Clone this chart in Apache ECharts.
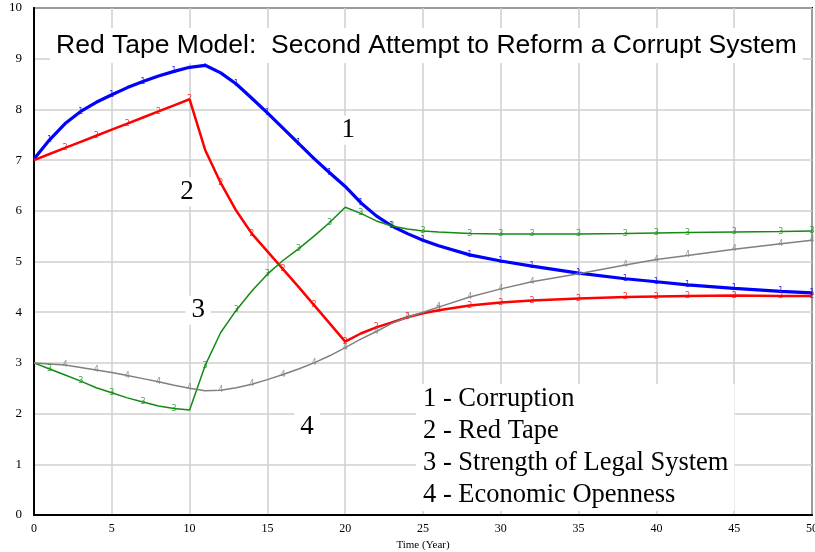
<!DOCTYPE html>
<html>
<head>
<meta charset="utf-8">
<script src="https://cdn.jsdelivr.net/npm/echarts@6/dist/echarts.min.js"></script>
<style>
  html, body { margin: 0; padding: 0; background: #fff; }
  #chart { width: 815px; height: 552px; }
</style>
</head>
<body>
<div id="chart"></div>
<script>
var years = [0, 1, 2, 3, 4, 5, 6, 7, 8, 9, 10, 11, 12, 13, 14, 15, 16, 17, 18, 19, 20,
  21, 22, 23, 24, 25, 26, 28, 30, 32, 35, 38, 40, 42, 45, 48, 50];

var corruption = [7.02, 7.4, 7.72, 7.96, 8.14, 8.29, 8.43, 8.55, 8.66, 8.75, 8.83, 8.87,
  8.72, 8.5, 8.22, 7.93, 7.63, 7.33, 7.03, 6.75, 6.48, 6.16, 5.9, 5.7, 5.55, 5.42, 5.31,
  5.13, 5.01, 4.91, 4.77, 4.66, 4.6, 4.54, 4.47, 4.41, 4.38];
var redTape = [7.0, 7.12, 7.24, 7.36, 7.48, 7.6, 7.72, 7.84, 7.96, 8.08, 8.2, 7.2,
  6.55, 6.0, 5.55, 5.2, 4.85, 4.5, 4.14, 3.78, 3.42, 3.58, 3.7, 3.8, 3.9, 3.98, 4.04,
  4.13, 4.19, 4.23, 4.27, 4.3, 4.31, 4.32, 4.33, 4.32, 4.32];
var legalSystem = [3.0, 2.88, 2.76, 2.64, 2.51, 2.41, 2.31, 2.23, 2.15, 2.1, 2.07, 2.95,
  3.6, 4.04, 4.42, 4.75, 5.02, 5.25, 5.5, 5.77, 6.07, 5.95, 5.8, 5.7, 5.64, 5.6, 5.58,
  5.55, 5.54, 5.54, 5.54, 5.55, 5.56, 5.57, 5.58, 5.59, 5.6];
var openness = [3.0, 2.98, 2.96, 2.91, 2.86, 2.81, 2.75, 2.69, 2.63, 2.56, 2.5, 2.45,
  2.46, 2.51, 2.58, 2.67, 2.77, 2.88, 3.0, 3.14, 3.3, 3.47, 3.62, 3.78, 3.9, 4.0, 4.1,
  4.3, 4.46, 4.6, 4.76, 4.93, 5.04, 5.12, 5.24, 5.35, 5.42];

var seriesNames = ["1 - Corruption", "2 - Red Tape", "3 - Strength of Legal System", "4 - Economic Openness"];
var xTicks = [0, 5, 10, 15, 20, 25, 30, 35, 40, 45, 50];
var yTicks = [0, 1, 2, 3, 4, 5, 6, 7, 8, 9, 10];

var serif = "Liberation Serif";
var myChart = echarts.init(document.getElementById("chart"), null, { renderer: "canvas" });

// small run numbers drawn along each curve, like the simulation tool does
function buildData(values, num) {
  return years.map(function (t, i) {
    var show = t > 26 ? true : (t + num) % 2 === 0 && t > 0;
    return {
      value: [t, values[i]],
      label: { show: show, formatter: String(num) }
    };
  });
}

function bigLabel(num, coord) {
  return {
    symbol: "rect",
    symbolSize: 0,
    silent: true,
    label: {
      show: true,
      formatter: String(num),
      fontFamily: serif,
      fontSize: 27,
      color: "#000",
      backgroundColor: "#fff",
      padding: [1, 6, 1, 6]
    },
    data: [{ coord: coord }]
  };
}

function makeSeries(name, values, num, color, width, big) {
  return {
    name: name,
    type: "line",
    data: buildData(values, num),
    symbol: "circle",
    symbolSize: 0,
    showSymbol: true,
    showAllSymbol: true,
    color: color,
    lineStyle: { color: color, width: width },
    label: { position: "inside", fontSize: 8, color: color, fontFamily: "DejaVu Sans", opacity: 0.8 },
    markPoint: big,
    animation: false,
    z: 2
  };
}

var option = {
  backgroundColor: "#fff",
  title: {
    text: "Red Tape Model:  Second Attempt to Reform a Corrupt System",
    left: 50,
    top: 28,
    backgroundColor: "#fff",
    padding: [4, 6, 4, 6],
    textStyle: { fontFamily: "Liberation Sans", fontSize: 26.5, fontWeight: "normal", color: "#000" }
  },
  legend: {
    data: seriesNames,
    orient: "vertical",
    left: 416,
    top: 384,
    icon: "rect",
    itemWidth: 0,
    itemHeight: 0,
    itemGap: 5,
    selectedMode: false,
    backgroundColor: "#fff",
    padding: [2, 6, 2, 2],
    textStyle: { fontFamily: serif, fontSize: 26.5, color: "#000" }
  },
  grid: {
    left: 34,
    right: 3,
    top: 8,
    bottom: 37,
    outerBoundsMode: "none",
    show: true,
    borderColor: "#000",
    borderWidth: 2
  },
  xAxis: {
    type: "value",
    min: xTicks[0],
    max: xTicks[xTicks.length - 1],
    interval: 5,
    name: "Time (Year)",
    nameLocation: "middle",
    nameGap: 25,
    nameTextStyle: { fontFamily: serif, fontSize: 11, color: "#000" },
    axisLine: { show: true, lineStyle: { color: "#000", width: 2 } },
    axisTick: { show: false },
    axisLabel: { fontFamily: serif, fontSize: 12, color: "#000", margin: 8 },
    splitLine: { show: true, lineStyle: { color: "#cfcfcf", width: 1.5 } }
  },
  yAxis: {
    type: "value",
    min: yTicks[0],
    max: yTicks[yTicks.length - 1],
    interval: 1,
    axisLine: { show: true, lineStyle: { color: "#000", width: 2 } },
    axisTick: { show: false },
    axisLabel: { fontFamily: serif, fontSize: 13, color: "#000", margin: 12 },
    splitLine: { show: true, lineStyle: { color: "#cfcfcf", width: 1.5 } }
  },
  series: [
    makeSeries(seriesNames[0], corruption, 1, "#0000ff", 3.2, bigLabel(1, [20.2, 7.59])),
    makeSeries(seriesNames[1], redTape, 2, "#ff0000", 2.5, bigLabel(2, [9.84, 6.37])),
    makeSeries(seriesNames[2], legalSystem, 3, "#138a13", 1.5, bigLabel(3, [10.55, 4.04])),
    makeSeries(seriesNames[3], openness, 4, "#808080", 1.5, bigLabel(4, [17.55, 1.74]))
  ]
};

myChart.setOption(option);
window.addEventListener("resize", myChart.resize);
</script>
</body>
</html>
